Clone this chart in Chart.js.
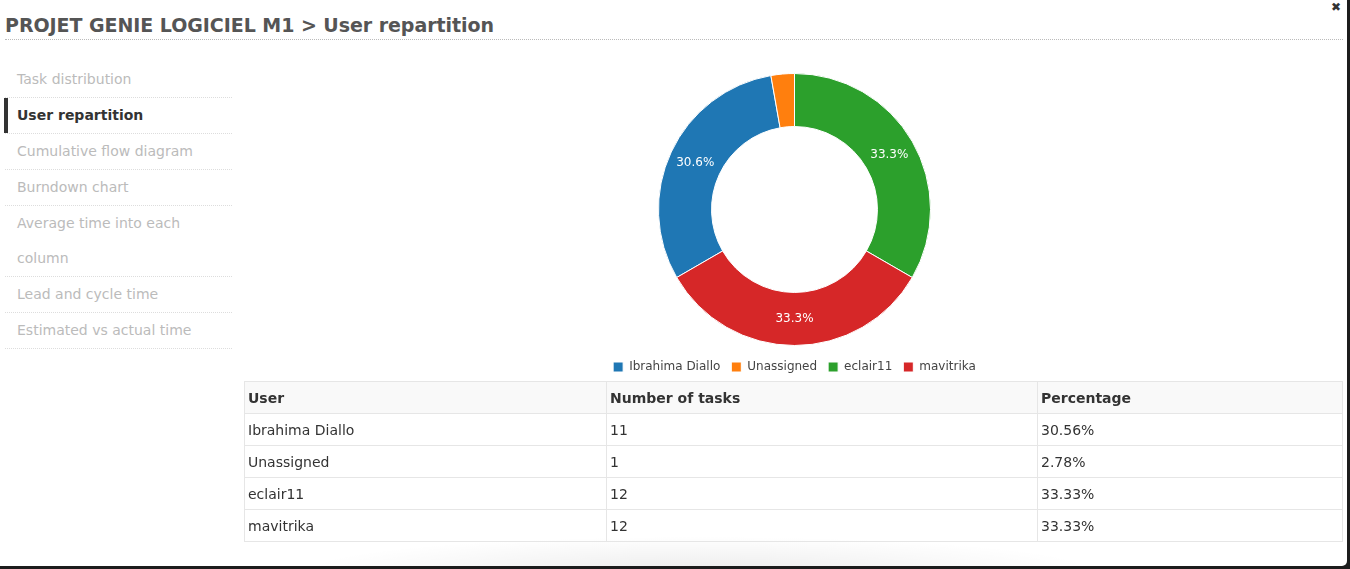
<!DOCTYPE html>
<html>
<head>
<meta charset="utf-8">
<script src="https://cdn.jsdelivr.net/npm/chart.js@4/dist/chart.umd.min.js"></script>
<style>
  html, body { margin:0; padding:0; width:1350px; height:569px; overflow:hidden; background:#1c1c1c; font-family:"DejaVu Sans", sans-serif; }
  #modal { position:absolute; left:0; top:0; width:1347px; height:566px; background:#fff; border-radius:0 0 5px 0; overflow:hidden; }
  #title { position:absolute; left:5px; top:14px; font-size:19px; font-weight:bold; color:#555; white-space:nowrap; letter-spacing:-0.05px; }
  #titleLine { position:absolute; left:5px; top:39px; width:1338px; border-bottom:1px dotted #bbb; }
  #close { position:absolute; left:1331px; top:0px; font-size:12px; color:#333; }
  #side { position:absolute; left:5px; top:62px; width:227px; margin:0; padding:0; list-style:none; }
  #side li { border-bottom:1px dotted #ddd; padding:0 15px 0 12px; line-height:35px; font-size:14px; color:#bbb; position:relative; width:200px; }
  #side li.active { color:#333; font-weight:bold; }
  #side li.active:before { content:""; position:absolute; left:-1px; top:0; bottom:0; width:4px; background:#333; }
  #chartBox { position:absolute; left:245px; top:73px; width:1099px; height:310px; }
  #tbl { position:absolute; left:244px; top:381px; width:1099px; border-collapse:collapse; font-size:14px; color:#333; }
  #tbl th, #tbl td { border:1px solid #e6e6e6; height:31px; padding:0 3px; text-align:left; }
  #tbl th { background:#f9f9f9; font-weight:bold; }
  #shadow { position:absolute; left:300px; top:536px; width:800px; height:34px; background:radial-gradient(ellipse at 50% 100%, rgba(0,0,0,0.07), rgba(0,0,0,0) 70%); }
</style>
</head>
<body>
<div id="modal">
  <div id="title">PROJET GENIE LOGICIEL M1 &gt; User repartition</div>
  <div id="titleLine"></div>
  <div id="close">✖</div>
  <ul id="side">
    <li>Task distribution</li>
    <li class="active">User repartition</li>
    <li>Cumulative flow diagram</li>
    <li>Burndown chart</li>
    <li>Average time into each column</li>
    <li>Lead and cycle time</li>
    <li>Estimated vs actual time</li>
  </ul>
  <div id="shadow"></div>
  <div id="chartBox"><canvas id="c"></canvas></div>
  <table id="tbl">
    <thead><tr><th style="width:355px">User</th><th style="width:424px">Number of tasks</th><th>Percentage</th></tr></thead>
    <tbody id="tb"></tbody>
  </table>
</div>
<script>
const users = ["Ibrahima Diallo", "Unassigned", "eclair11", "mavitrika"];
const taskCounts = [11, 1, 12, 12];
const percentages = ["30.56%", "2.78%", "33.33%", "33.33%"];
const colors = ["#1f77b4", "#ff7f0e", "#2ca02c", "#d62728"];

const tb = document.getElementById('tb');
users.forEach((u, i) => {
  const tr = document.createElement('tr');
  [u, String(taskCounts[i]), percentages[i]].forEach(t => {
    const td = document.createElement('td'); td.textContent = t; tr.appendChild(td);
  });
  tb.appendChild(tr);
});

Chart.defaults.font.family = '"DejaVu Sans", sans-serif';
const sliceLabels = {
  id: 'sliceLabels',
  afterDatasetsDraw(chart) {
    const ctx = chart.ctx;
    const ds = chart.data.datasets[0];
    const total = ds.data.reduce((a, b) => a + b, 0);
    const meta = chart.getDatasetMeta(0);
    ctx.save();
    ctx.font = '12px "DejaVu Sans", sans-serif';
    ctx.fillStyle = '#fff';
    ctx.textAlign = 'center';
    ctx.textBaseline = 'middle';
    meta.data.forEach((arc, i) => {
      const pct = ds.data[i] / total * 100;
      if (pct < 5) return;
      const p = arc.tooltipPosition();
      ctx.fillText(pct.toFixed(1) + '%', p.x, p.y);
    });
    ctx.restore();
  }
};

new Chart(document.getElementById('c'), {
  type: 'doughnut',
  data: {
    labels: users,
    datasets: [{ data: taskCounts, backgroundColor: colors, borderColor: '#fff', borderWidth: 1 }]
  },
  options: {
    responsive: true,
    maintainAspectRatio: false,
    animation: false,
    cutout: '61%',
    rotation: -120,
    layout: { padding: 0 },
    plugins: {
      legend: {
        position: 'bottom',
        title: { display: true, text: '', padding: 0, font: { size: 4, lineHeight: 1 } },
        labels: { boxWidth: 10, boxHeight: 10, padding: 11, color: '#444', font: { size: 12 } }
      },
      tooltip: { enabled: false }
    }
  },
  plugins: [sliceLabels]
});
</script>
</body>
</html>
